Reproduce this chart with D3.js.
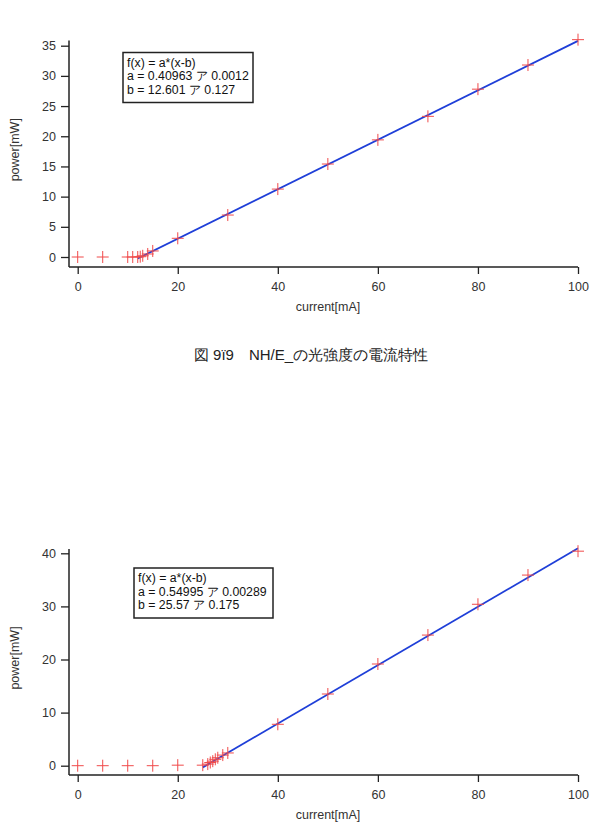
<!DOCTYPE html>
<html><head><meta charset="utf-8">
<script src="https://cdnjs.cloudflare.com/ajax/libs/d3/7.8.5/d3.min.js"></script>
<style>body{margin:0;background:#fff}svg{display:block}text{font-family:"Liberation Sans",Arial,sans-serif}</style>
</head><body>
<svg id="c" width="596" height="833"></svg>
<script>
// Chart 1 data
const x1 = [0,5,10,11,12,12.5,13,14,15,20,30,40,50,60,70,80,90,100];
const y1 = [0,0,0,0,0,0.05,0.2,0.5,1.0,3.1,6.95,11.25,15.4,19.4,23.3,27.8,31.8,36.0];
const fit1 = {a:0.40963, b:12.601, from:12, to:100};
const legend1 = ["f(x) = a*(x-b)","a = 0.40963 ア 0.0012","b = 12.601 ア 0.127"];
const yTicks1 = [0,5,10,15,20,25,30,35];
// Chart 2 data
const x2 = [0,5,10,15,20,25,26,26.5,27,27.5,28,29,30,40,50,60,70,80,90,100];
const y2 = [0,0,0,0,0.1,0.1,0.3,0.6,0.85,1.2,1.5,2.0,2.4,7.8,13.5,19.15,24.6,30.4,35.9,40.4];
const fit2 = {a:0.54995, b:25.57, from:25, to:100};
const legend2 = ["f(x) = a*(x-b)","a = 0.54995 ア 0.00289","b = 25.57 ア 0.175"];
const yTicks2 = [0,10,20,30,40];
const xTicks = [0,20,40,60,80,100];
const caption = "図 9ï9　NH/E_の光強度の電流特性";

const svg = d3.select("#c");

function chart(cfg){
  const g = svg.append("g");
  const x = d3.scaleLinear().domain([0,100]).range([77.7,578]);
  const y = d3.scaleLinear().domain([0,cfg.yMax]).range([cfg.y0,cfg.yTop]);
  const axisColor = "#222";
  const xa = g.append("g").attr("transform",`translate(0,${cfg.xAxisY})`)
    .call(d3.axisBottom(x).tickValues(xTicks).tickSize(7).tickPadding(8).tickFormat(d3.format("d")));
  xa.select(".domain").attr("d",`M69,0H578`).attr("stroke",axisColor).attr("stroke-width",1.5);
  const ya = g.append("g").attr("transform",`translate(69,0)`)
    .call(d3.axisLeft(y).tickValues(cfg.yTicks).tickSize(8).tickPadding(5).tickFormat(d3.format("d")));
  ya.select(".domain").attr("d",`M0,${cfg.axisTop}V${cfg.xAxisY}`).attr("stroke",axisColor).attr("stroke-width",1.5);
  g.selectAll(".tick line").attr("stroke",axisColor).attr("stroke-width",1.3);
  g.selectAll(".tick text").attr("font-size",12.5).attr("fill","#333");
  g.append("text").attr("x",328).attr("y",cfg.xAxisY+44).attr("text-anchor","middle")
    .attr("font-size",12.5).attr("fill","#333").text("current[mA]");
  g.append("text").attr("transform",`translate(19,${(cfg.axisTop+cfg.xAxisY)/2 - 4}) rotate(-90)`)
    .attr("text-anchor","middle").attr("font-size",12.5).attr("fill","#333").text("power[mW]");
  const fd = [cfg.fit.from, cfg.fit.to].map(v=>[v, cfg.fit.a*(v-cfg.fit.b)]);
  g.append("path").datum(fd).attr("fill","none").attr("stroke","#1f3fd8").attr("stroke-width",1.8)
    .attr("d",d3.line().x(d=>x(d[0])).y(d=>y(d[1])));
  const s = 6;
  g.append("g").selectAll("path").data(cfg.xs.map((v,i)=>[v,cfg.ys[i]])).join("path")
    .attr("d",d=>`M${x(d[0])-s},${y(d[1])}H${x(d[0])+s}M${x(d[0])},${y(d[1])-s}V${y(d[1])+s}`)
    .attr("stroke","#f04a4a").attr("stroke-width",1).attr("fill","none");
  const L = cfg.legend;
  g.append("rect").attr("x",L.x).attr("y",L.y).attr("width",L.w).attr("height",L.h)
    .attr("fill","#fff").attr("stroke","#222").attr("stroke-width",1.5);
  g.append("g").selectAll("text").data(cfg.legendText).join("text")
    .attr("x",L.x+4).attr("y",(d,i)=>L.y+14+i*13.5).attr("font-size",12.3).attr("fill","#111").text(d=>d);
}

chart({xs:x1, ys:y1, fit:fit1, yMax:35, y0:257, yTop:45.7, xAxisY:267, axisTop:40.5, yTicks:yTicks1,
  legend:{x:123,y:52.5,w:130,h:50}, legendText:legend1});
chart({xs:x2, ys:y2, fit:fit2, yMax:40, y0:765.7, yTop:553.3, xAxisY:775, axisTop:549, yTicks:yTicks2,
  legend:{x:134,y:568,w:139,h:50}, legendText:legend2});

svg.append("text").attr("x",311).attr("y",360).attr("text-anchor","middle")
  .attr("font-family","'Noto Sans CJK JP',sans-serif").attr("font-size",15).attr("font-weight",500)
  .attr("fill","#222").text(caption);
</script>
</body></html>
